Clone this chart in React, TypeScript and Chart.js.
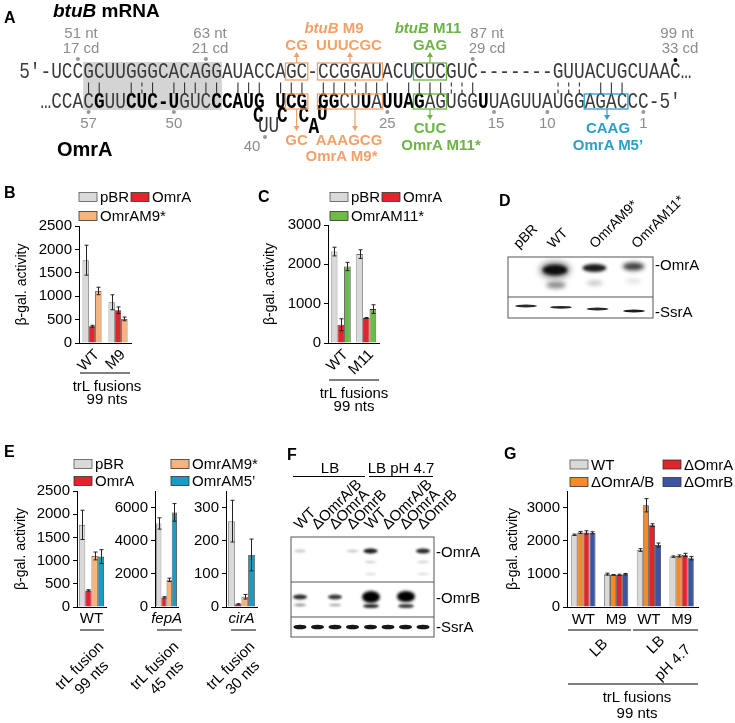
import React, { useEffect, useRef } from 'react';
import { Chart, registerables } from 'chart.js';

Chart.register(...registerables);

const FONT = "'Liberation Sans', Arial, Helvetica, sans-serif";
const MONO = "'Liberation Mono', 'Courier New', monospace";

// ---------- colours ----------
const GREY = '#d9d9d9';
const RED = '#e2252b';
const LORANGE = '#f8b27b';
const GREEN = '#6dbb45';
const TEAL = '#1b9bc4';
const ORANGE = '#f18b2b';
const NAVY = '#3b54a4';
const A_ORANGE = '#f3a168';
const A_GREEN = '#6cb544';
const A_BLUE = '#2b9fc9';
const NUMGREY = '#8c8c8c';

// ---------- Panel B data ----------
const B_LABELS = ['WT', 'M9'];
const B_TICKS = [0, 500, 1000, 1500, 2000, 2500];
const B_PBR = [1770, 870];
const B_PBR_ERR = [320, 160];
const B_OMRA = [358, 700];
const B_OMRA_ERR = [20, 70];
const B_OMRAM9 = [1112, 515];
const B_OMRAM9_ERR = [80, 40];

// ---------- Panel C data ----------
const C_LABELS = ['WT', 'M11'];
const C_TICKS = [0, 500, 1000, 1500, 2000, 2500, 3000];
const C_PBR = [2325, 2260];
const C_PBR_ERR = [110, 110];
const C_OMRA = [465, 635];
const C_OMRA_ERR = [150, 12];
const C_OMRAM11 = [1945, 862];
const C_OMRAM11_ERR = [105, 110];

// ---------- Panel E data (pBR, OmrA, OmrAM9*, OmrAM5') ----------
const E_WT_TICKS = [0, 500, 1000, 1500, 2000, 2500];
const E_WT = [1770, 357, 1100, 1086];
const E_WT_ERR = [315, 15, 85, 150];
const E_FEPA_TICKS = [0, 2000, 4000, 6000];
const E_FEPA = [5040, 580, 1640, 5710];
const E_FEPA_ERR = [340, 40, 100, 530];
const E_CIRA_TICKS = [0, 100, 200, 300];
const E_CIRA = [259, 8, 31, 157];
const E_CIRA_ERR = [63, 2, 7, 48];

// ---------- Panel G data ----------
const G_LABELS = ['WT', 'M9', 'WT', 'M9'];
const G_TICKS = [0, 1000, 2000, 3000];
const G_WT = [2180, 990, 1720, 1520];
const G_WT_ERR = [20, 30, 40, 20];
const G_OMRAB = [2250, 970, 3070, 1540];
const G_OMRAB_ERR = [30, 10, 200, 30];
const G_OMRA = [2250, 970, 2470, 1570];
const G_OMRA_ERR = [50, 20, 40, 50];
const G_OMRB = [2240, 990, 1870, 1470];
const G_OMRB_ERR = [30, 20, 60, 50];

// ---------- blot lane labels ----------
const D_LANES = ['pBR', 'WT', 'OmrAM9*', 'OmrAM11*'];
const D_LABEL_X = [519, 553, 595, 637];
const F_LANES = ['WT', 'ΔOmrA/B', 'ΔOmrA', 'ΔOmrB', 'WT', 'ΔOmrA/B', 'ΔOmrA', 'ΔOmrB'];
const F_X = [300, 317.5, 335, 352.5, 370.5, 388, 405.5, 423];

// ---------- sequences (panel A) ----------
const TOP_SEQ = '5′-UCCGCUUGGGCACAGGAUACCAGC-CCGGAUACUCUCGUC-------GUUACUGCUAAC…';
const BOT_SEGS: [string, boolean][] = [
  ['…CCAC', false], ['G', true], ['UU', false], ['CUC-U', true], ['GUC', false], ['C', true],
  ['CAUG', true], [' ', false], ['UCG', true], [' ', false], ['GG', true], ['CU', false],
  ['U', true], ['A', false], ['UUAG', true], ['AGUGG', false], ['U', true], ['UAGUUAUGGAGACCC-5′', false],
];
const PAIRS = [6, 7, 10, 11, 12, 14, 15, 16, 17, 18, 20, 21, 22, 24, 25, 26, 28, 29, 30, 31, 32, 33, 34, 36, 37, 38, 39, 40, 41, 42, 50, 51, 52, 54, 55, 56];
const WOBBLE = [11, 31, 40, 41, 50, 51, 52];

const CW = 10.67;
const CX0 = 19.2;
const cx = (k: number) => CX0 + CW * k;
const cc = (k: number) => CX0 + CW * (k + 0.5);

// ---------- error bar plugin ----------
const errorBars = {
  id: 'errorBars',
  afterDatasetsDraw(chart: any) {
    const ctx = chart.ctx;
    const ys = chart.scales.y;
    chart.data.datasets.forEach((ds: any, di: number) => {
      const meta = chart.getDatasetMeta(di);
      meta.data.forEach((bar: any, i: number) => {
        const v = ds.data[i];
        const e = ds.errors ? ds.errors[i] : 0;
        if (!e) return;
        const x = Math.round(bar.x) + 0.5;
        const t = ys.getPixelForValue(v + e);
        const b = ys.getPixelForValue(Math.max(0, v - e));
        ctx.save();
        ctx.strokeStyle = '#222';
        ctx.lineWidth = 1;
        ctx.beginPath();
        ctx.moveTo(x, t); ctx.lineTo(x, b);
        ctx.moveTo(x - 2, t); ctx.lineTo(x + 2, t);
        ctx.moveTo(x - 2, b); ctx.lineTo(x + 2, b);
        ctx.stroke();
        ctx.restore();
      });
    });
  },
};

type SeriesDef = { label: string; data: number[]; err: number[]; color: string };

function cfg(o: {
  labels: string[]; series: SeriesDef[]; max: number; ticks: number[]; yW: number; xH: number;
  padTop: number; titlePad: number | null; rot: number; xPad: number; cat: number; italic?: boolean; lOff?: number;
}) {
  return {
    type: 'bar',
    data: {
      labels: o.labels,
      datasets: o.series.map((s) => ({
        label: s.label, data: s.data, errors: s.err, backgroundColor: s.color,
        borderColor: s.color === GREY ? '#6a6a6a' : '#3a3a3a', borderWidth: 0.8,
        categoryPercentage: o.cat, barPercentage: 1,
      })),
    },
    options: {
      animation: false, responsive: false, events: [],
      layout: { padding: { top: o.padTop, right: 4, bottom: 0, left: 0 } },
      plugins: { legend: { display: false }, tooltip: { enabled: false } },
      scales: {
        x: {
          grid: { display: false, drawTicks: false },
          border: { display: true, color: '#000', width: 1 },
          ticks: {
            color: '#000', font: { family: FONT, size: 15, style: o.italic ? 'italic' : 'normal' },
            minRotation: o.rot, maxRotation: o.rot, autoSkip: false, padding: o.xPad, labelOffset: o.lOff ?? 0,
          },
          afterFit: (s: any) => { s.height = o.xH; },
        },
        y: {
          min: 0, max: o.max,
          grid: { display: true, drawOnChartArea: false, drawTicks: true, tickLength: 4, color: '#000' },
          border: { display: true, color: '#000', width: 1 },
          ticks: { color: '#000', font: { family: FONT, size: 15 }, padding: 3, callback: (v: any) => String(v) },
          afterBuildTicks: (s: any) => { s.ticks = o.ticks.map((v) => ({ value: v })); },
          title: o.titlePad === null
            ? { display: false }
            : { display: true, text: 'β-gal. activity', color: '#000', font: { family: FONT, size: 14 }, padding: { top: o.titlePad, bottom: 0 } },
          afterFit: (s: any) => { s.width = o.yW; },
        },
      },
    },
    plugins: [errorBars],
  };
}

const eSeries = (d: number[], e: number[]): SeriesDef[] => [
  { label: 'pBR', data: [d[0]], err: [e[0]], color: GREY },
  { label: 'OmrA', data: [d[1]], err: [e[1]], color: RED },
  { label: 'OmrAM9*', data: [d[2]], err: [e[2]], color: LORANGE },
  { label: 'OmrAM5’', data: [d[3]], err: [e[3]], color: TEAL },
];

const PANELS = [
  {
    left: 0, top: 212, width: 135, height: 166,
    make: () => cfg({
      labels: B_LABELS, max: 2500, ticks: B_TICKS, yW: 79, xH: 35, padTop: 14, titlePad: 13.6, rot: 45, xPad: 3, cat: 0.73, lOff: 5,
      series: [
        { label: 'pBR', data: B_PBR, err: B_PBR_ERR, color: GREY },
        { label: 'OmrA', data: B_OMRA, err: B_OMRA_ERR, color: RED },
        { label: 'OmrAM9*', data: B_OMRAM9, err: B_OMRAM9_ERR, color: LORANGE },
      ],
    }),
  },
  {
    left: 250, top: 211, width: 133, height: 167,
    make: () => cfg({
      labels: C_LABELS, max: 3000, ticks: C_TICKS, yW: 78, xH: 35, padTop: 14, titlePad: 11.6, rot: 45, xPad: 3, cat: 0.78, lOff: 5,
      series: [
        { label: 'pBR', data: C_PBR, err: C_PBR_ERR, color: GREY },
        { label: 'OmrA', data: C_OMRA, err: C_OMRA_ERR, color: RED },
        { label: 'OmrAM11*', data: C_OMRAM11, err: C_OMRAM11_ERR, color: GREEN },
      ],
    }),
  },
  {
    left: 0, top: 477, width: 110, height: 154,
    make: () => cfg({ labels: ['WT'], max: 2500, ticks: E_WT_TICKS, yW: 77, xH: 24, padTop: 14, titlePad: 13, rot: 0, xPad: 3, cat: 0.86, series: eSeries(E_WT, E_WT_ERR) }),
  },
  {
    left: 110, top: 477, width: 77, height: 154,
    make: () => cfg({ labels: ['fepA'], max: 7000, ticks: E_FEPA_TICKS, yW: 45, xH: 24, padTop: 14, titlePad: null, rot: 0, xPad: 3, cat: 0.9, italic: true, series: eSeries(E_FEPA, E_FEPA_ERR) }),
  },
  {
    left: 186, top: 477, width: 75, height: 154,
    make: () => cfg({ labels: ['cirA'], max: 350, ticks: E_CIRA_TICKS, yW: 40, xH: 24, padTop: 14, titlePad: null, rot: 0, xPad: 3, cat: 0.86, italic: true, series: eSeries(E_CIRA, E_CIRA_ERR) }),
  },
  {
    left: 500, top: 477, width: 202, height: 154,
    make: () => cfg({
      labels: G_LABELS, max: 3500, ticks: G_TICKS, yW: 67, xH: 24, padTop: 14, titlePad: 4.6, rot: 0, xPad: 4, cat: 0.74,
      series: [
        { label: 'WT', data: G_WT, err: G_WT_ERR, color: GREY },
        { label: 'ΔOmrA/B', data: G_OMRAB, err: G_OMRAB_ERR, color: ORANGE },
        { label: 'ΔOmrA', data: G_OMRA, err: G_OMRA_ERR, color: RED },
        { label: 'ΔOmrB', data: G_OMRB, err: G_OMRB_ERR, color: NAVY },
      ],
    }),
  },
];

// ---------- SVG helpers ----------
function T(p: { x: number; y: number; s?: number; w?: any; c?: string; a?: string; rot?: number; it?: boolean; mid?: boolean; children: any }) {
  return (
    <text
      x={p.x} y={p.y} fontSize={p.s ?? 15} fontWeight={p.w ?? 'normal'} fill={p.c ?? '#000'}
      textAnchor={(p.a as any) ?? 'start'} fontStyle={p.it ? 'italic' : 'normal'}
      dominantBaseline={p.mid ? 'central' : 'auto'}
      transform={p.rot ? `rotate(${p.rot} ${p.x} ${p.y})` : undefined}
    >
      {p.children}
    </text>
  );
}

function Arrow({ x, y1, y2, c }: { x: number; y1: number; y2: number; c: string }) {
  const dir = y2 > y1 ? 1 : -1;
  const hb = y2 - dir * 5;
  return (
    <g>
      <line x1={x} y1={y1} x2={x} y2={hb} stroke={c} strokeWidth={1.2} />
      <path d={`M${x - 3} ${hb} L${x + 3} ${hb} L${x} ${y2} Z`} fill={c} />
    </g>
  );
}

function Leg({ x, y, c, label }: { x: number; y: number; c: string; label: string }) {
  return (
    <g>
      <rect x={x} y={y - 4.5} width={18} height={9} fill={c} stroke={c === GREY ? '#555' : '#333'} strokeWidth={0.8} />
      <T x={x + 21} y={y + 5.3}>{label}</T>
    </g>
  );
}

function Mono({ x, y, bold, c, children }: { x: any; y: number; bold?: boolean; c?: string; children: any }) {
  return (
    <g transform={`translate(0 ${y}) scale(1 1.22)`}>
      <text x={x} y={0} fontFamily={MONO} fontSize={17.8} fontWeight={bold ? 'bold' : 'normal'} fill={c ?? (bold ? '#000' : '#3a3a3a')}>
        {children}
      </text>
    </g>
  );
}

function Band({ x, y, rx, ry, c, b }: { x: number; y: number; rx: number; ry: number; c: string; b: string }) {
  return <ellipse cx={x} cy={y} rx={rx} ry={ry} fill={c} filter={`url(#${b})`} />;
}

function PanelA() {
  const topXs = Array.from(TOP_SEQ).map((_, i) => cx(i).toFixed(2)).join(' ');
  const norm = { s: '', xs: [] as string[] };
  const bold = { s: '', xs: [] as string[] };
  let col = 2;
  for (const [seg, b] of BOT_SEGS) {
    for (const ch of Array.from(seg)) {
      if (ch !== ' ') {
        const t = b ? bold : norm;
        t.s += ch;
        t.xs.push(cx(col).toFixed(2));
      }
      col++;
    }
  }
  const box = (k1: number, k2: number, y: number, h: number, c: string) => (
    <rect x={cx(k1) - 0.5} y={y} width={cx(k2 + 1) - cx(k1) + 1} height={h} fill="none" stroke={c} strokeWidth={1.3} />
  );
  return (
    <g>
      <T x={4} y={23} s={16} w="bold">A</T>
      <text x={53} y={17} fontSize={19} fontWeight="bold"><tspan fontStyle="italic">btuB</tspan> mRNA</text>
      <T x={57} y={156} s={20} w="bold">OmrA</T>

      <rect x={cx(6)} y={62} width={cx(19) - cx(6)} height={48} fill="#d4d4d4" />

      {/* grey position labels */}
      <T x={81} y={38} c={NUMGREY} a="middle">51 nt</T>
      <T x={81} y={53} c={NUMGREY} a="middle">17 cd</T>
      <T x={210} y={38} c={NUMGREY} a="middle">63 nt</T>
      <T x={210} y={53} c={NUMGREY} a="middle">21 cd</T>
      <T x={487} y={38} c={NUMGREY} a="middle">87 nt</T>
      <T x={487} y={53} c={NUMGREY} a="middle">29 cd</T>
      <T x={677} y={38} c={NUMGREY} a="middle">99 nt</T>
      <T x={680} y={53} c={NUMGREY} a="middle">33 cd</T>
      <circle cx={cc(5)} cy={59} r={2} fill="#999" />
      <circle cx={cc(17)} cy={59} r={2} fill="#999" />
      <circle cx={cc(42)} cy={59} r={2} fill="#999" />
      <circle cx={cc(61)} cy={60} r={2} fill="#000" />

      <T x={cc(6)} y={128} c={NUMGREY} a="middle">57</T>
      <T x={cc(14)} y={128} c={NUMGREY} a="middle">50</T>
      <T x={252} y={151} c={NUMGREY} a="middle">40</T>
      <T x={cc(34)} y={128} c={NUMGREY} a="middle">25</T>
      <T x={cc(44) + 2} y={128} c={NUMGREY} a="middle">15</T>
      <T x={cc(49)} y={128} c={NUMGREY} a="middle">10</T>
      <T x={cc(58)} y={128} c={NUMGREY} a="middle">1</T>
      {[6, 14, 34, 44, 49, 58].map((k) => <circle key={k} cx={cc(k)} cy={112} r={2} fill="#999" />)}
      <circle cx={265} cy={137} r={2} fill="#999" />

      {/* sequences */}
      <Mono x={topXs} y={78}>{TOP_SEQ}</Mono>
      <Mono x={norm.xs.join(' ')} y={107.5}>{norm.s}</Mono>
      <Mono x={bold.xs.join(' ')} y={107.5} bold>{bold.s}</Mono>

      {/* bulge */}
      <Mono x={253} y={121.5} bold>C</Mono>
      <Mono x="258 268.6" y={131.5}>UU</Mono>
      <Mono x={277} y={121.5} bold>C</Mono>
      <Mono x={298.5} y={121.5} bold>C</Mono>
      <Mono x={308.5} y={133} bold>A</Mono>
      <Mono x={317} y={120} bold>U</Mono>

      {/* base pairs */}
      {PAIRS.map((k) => {
        const x = cc(k);
        return WOBBLE.includes(k) ? (
          <g key={k}>
            <line x1={x} y1={82.5} x2={x} y2={86.5} stroke="#333" strokeWidth={1.1} />
            <line x1={x} y1={89.5} x2={x} y2={93.5} stroke="#333" strokeWidth={1.1} />
          </g>
        ) : (
          <line key={k} x1={x} y1={82.5} x2={x} y2={93.5} stroke="#333" strokeWidth={1.1} />
        );
      })}

      {/* mutation boxes */}
      {box(25, 26, 63, 17, A_ORANGE)}
      {box(28, 33, 63, 17, A_ORANGE)}
      {box(25, 26, 94, 15, A_ORANGE)}
      {box(28, 33, 94, 15, A_ORANGE)}
      {box(37, 39, 63, 17, A_GREEN)}
      {box(37, 39, 94, 15, A_GREEN)}
      {box(53, 56, 94, 15, A_BLUE)}

      <Arrow x={cx(26)} y1={63} y2={52} c={A_ORANGE} />
      <Arrow x={cx(31)} y1={63} y2={52} c={A_ORANGE} />
      <Arrow x={cx(26)} y1={109} y2={131} c={A_ORANGE} />
      <Arrow x={355} y1={109} y2={131} c={A_ORANGE} />
      <Arrow x={cc(38)} y1={63} y2={52} c={A_GREEN} />
      <Arrow x={cc(38)} y1={109} y2={120} c={A_GREEN} />
      <Arrow x={607} y1={109} y2={120} c={A_BLUE} />

      <text x={334} y={33} fontSize={15} fontWeight="bold" fill={A_ORANGE} textAnchor="middle"><tspan fontStyle="italic">btuB</tspan> M9</text>
      <T x={cx(26)} y={50} w="bold" c={A_ORANGE} a="middle">CG</T>
      <T x={349} y={50} w="bold" c={A_ORANGE} a="middle">UUUCGC</T>
      <T x={cx(26)} y={145} w="bold" c={A_ORANGE} a="middle">GC</T>
      <T x={349} y={145} w="bold" c={A_ORANGE} a="middle">AAAGCG</T>
      <T x={341.5} y={161} w="bold" c={A_ORANGE} a="middle">OmrA M9*</T>

      <text x={428} y={33} fontSize={15} fontWeight="bold" fill={A_GREEN} textAnchor="middle"><tspan fontStyle="italic">btuB</tspan> M11</text>
      <T x={cc(38)} y={50} w="bold" c={A_GREEN} a="middle">GAG</T>
      <T x={cc(38)} y={133} w="bold" c={A_GREEN} a="middle">CUC</T>
      <T x={441} y={150} w="bold" c={A_GREEN} a="middle">OmrA M11*</T>

      <T x={608} y={133} w="bold" c={A_BLUE} a="middle">CAAG</T>
      <T x={608} y={150} w="bold" c={A_BLUE} a="middle">OmrA M5’</T>
    </g>
  );
}

function PanelD() {
  return (
    <g>
      <T x={499} y={206} s={16} w="bold">D</T>
      {D_LANES.map((l, i) => (
        <T key={i} x={D_LABEL_X[i]} y={249} s={14} rot={-45}>{l}</T>
      ))}
      <clipPath id="dclip1"><rect x={508} y={257} width={145} height={40} /></clipPath>
      <clipPath id="dclip2"><rect x={508} y={297} width={145} height={21} /></clipPath>
      <g clipPath="url(#dclip1)">
        <Band x={555} y={270} rx={15} ry={8} c="#777" b="bl3" />
        <Band x={555} y={270} rx={12} ry={5} c="#0a0a0a" b="bl15" />
        <Band x={556} y={285} rx={10} ry={3.5} c="#8a8a8a" b="bl2" />
        <Band x={594.5} y={268} rx={12} ry={4} c="#1e1e1e" b="bl15" />
        <Band x={594.5} y={283} rx={8} ry={2.5} c="#c4c4c4" b="bl2" />
        <Band x={633.5} y={266.5} rx={11} ry={4} c="#3e3e3e" b="bl2" />
        <Band x={633.5} y={281} rx={8} ry={2.5} c="#e2e2e2" b="bl2" />
      </g>
      <g clipPath="url(#dclip2)">
        <Band x={526} y={306} rx={11} ry={1.4} c="#2a2a2a" b="bl07" />
        <Band x={561} y={307.3} rx={11} ry={1.4} c="#2a2a2a" b="bl07" />
        <Band x={597.5} y={309} rx={11} ry={1.4} c="#2a2a2a" b="bl07" />
        <Band x={634} y={311} rx={11} ry={1.5} c="#1e1e1e" b="bl07" />
      </g>
      <rect x={508} y={257} width={145} height={61} fill="none" stroke="#555" strokeWidth={1} />
      <line x1={508} y1={297} x2={653} y2={297} stroke="#555" strokeWidth={1} />
      <T x={655} y={269.5}>-OmrA</T>
      <T x={655} y={317}>-SsrA</T>
    </g>
  );
}

function PanelF() {
  return (
    <g>
      <T x={287} y={460} s={16} w="bold">F</T>
      <T x={330} y={473} a="middle">LB</T>
      <T x={401} y={473} a="middle">LB pH 4.7</T>
      <line x1={293} y1={476.5} x2={365} y2={476.5} stroke="#000" strokeWidth={1} />
      <line x1={369} y1={476.5} x2={433} y2={476.5} stroke="#000" strokeWidth={1} />
      {F_LANES.map((l, i) => (
        <T key={i} x={F_X[i]} y={530} s={15} rot={-45}>{l}</T>
      ))}
      <clipPath id="fclip1"><rect x={291} y={537} width={143} height={45} /></clipPath>
      <clipPath id="fclip2"><rect x={291} y={582} width={143} height={35} /></clipPath>
      <clipPath id="fclip3"><rect x={291} y={617} width={143} height={20} /></clipPath>
      <g clipPath="url(#fclip1)">
        <Band x={300} y={551} rx={6} ry={1.5} c="#c8c8c8" b="bl1" />
        <Band x={352.5} y={551} rx={6} ry={1.5} c="#cdcdcd" b="bl1" />
        <Band x={370.5} y={551} rx={7} ry={2.5} c="#1e1e1e" b="bl1" />
        <Band x={370.5} y={562} rx={6} ry={1.2} c="#cfcfcf" b="bl1" />
        <Band x={370.5} y={574} rx={6} ry={1.2} c="#dcdcdc" b="bl1" />
        <Band x={423} y={551} rx={7} ry={2.5} c="#2a2a2a" b="bl1" />
        <Band x={423} y={562} rx={6} ry={1.2} c="#cfcfcf" b="bl1" />
        <Band x={423} y={574} rx={6} ry={1.2} c="#dcdcdc" b="bl1" />
      </g>
      <g clipPath="url(#fclip2)">
        <Band x={300} y={597} rx={7} ry={2.6} c="#2e2e2e" b="bl1" />
        <Band x={300} y={605} rx={6} ry={1.5} c="#9a9a9a" b="bl1" />
        <Band x={335} y={597} rx={7} ry={2.6} c="#3a3a3a" b="bl1" />
        <Band x={335} y={605} rx={6} ry={1.3} c="#aaaaaa" b="bl1" />
        <Band x={371} y={597} rx={9} ry={6} c="#000" b="bl15" />
        <Band x={371} y={606} rx={8} ry={2} c="#2a2a2a" b="bl1" />
        <Band x={406} y={596.5} rx={9} ry={5.5} c="#000" b="bl15" />
        <Band x={406} y={606} rx={8} ry={2} c="#3a3a3a" b="bl1" />
      </g>
      <g clipPath="url(#fclip3)">
        {F_X.map((x, i) => <Band key={i} x={x} y={627} rx={6.5} ry={2.3} c="#161616" b="bl07" />)}
      </g>
      <rect x={291} y={537} width={143} height={100} fill="none" stroke="#555" strokeWidth={1} />
      <line x1={291} y1={582} x2={434} y2={582} stroke="#555" strokeWidth={1} />
      <line x1={291} y1={617} x2={434} y2={617} stroke="#555" strokeWidth={1} />
      <T x={436} y={556.5}>-OmrA</T>
      <T x={436} y={602.5}>-OmrB</T>
      <T x={436} y={632}>-SsrA</T>
    </g>
  );
}

function Overlay() {
  return (
    <svg width={735} height={723} style={{ position: 'absolute', left: 0, top: 0, pointerEvents: 'none' }} fontFamily={FONT}>
      <defs>
        <filter id="bl07" x="-50%" y="-200%" width="200%" height="500%"><feGaussianBlur stdDeviation="0.7" /></filter>
        <filter id="bl1" x="-50%" y="-200%" width="200%" height="500%"><feGaussianBlur stdDeviation="1" /></filter>
        <filter id="bl15" x="-50%" y="-200%" width="200%" height="500%"><feGaussianBlur stdDeviation="1.5" /></filter>
        <filter id="bl2" x="-50%" y="-200%" width="200%" height="500%"><feGaussianBlur stdDeviation="2" /></filter>
        <filter id="bl3" x="-50%" y="-200%" width="200%" height="500%"><feGaussianBlur stdDeviation="3" /></filter>
      </defs>
      <PanelA />

      {/* Panel B */}
      <T x={4} y={198} s={16} w="bold">B</T>
      <Leg x={79} y={197} c={GREY} label="pBR" />
      <Leg x={131} y={197} c={RED} label="OmrA" />
      <Leg x={79} y={216} c={LORANGE} label="OmrAM9*" />
      <line x1={80} y1={373} x2={130} y2={373} stroke="#000" strokeWidth={1} />
      <T x={107} y={391} a="middle">trL fusions</T>
      <T x={107} y={404} a="middle">99 nts</T>

      {/* Panel C */}
      <T x={258} y={202} s={16} w="bold">C</T>
      <Leg x={330} y={197} c={GREY} label="pBR" />
      <Leg x={382} y={197} c={RED} label="OmrA" />
      <Leg x={330} y={216} c={GREEN} label="OmrAM11*" />
      <line x1={329} y1={380} x2={379} y2={380} stroke="#000" strokeWidth={1} />
      <T x={354} y={398} a="middle">trL fusions</T>
      <T x={354} y={411} a="middle">99 nts</T>

      <PanelD />

      {/* Panel E */}
      <T x={4} y={457} s={16} w="bold">E</T>
      <Leg x={74} y={464} c={GREY} label="pBR" />
      <Leg x={74} y={481} c={RED} label="OmrA" />
      <Leg x={171} y={464} c={LORANGE} label="OmrAM9*" />
      <Leg x={171} y={481} c={TEAL} label="OmrAM5’" />
      <line x1={80} y1={630} x2={104} y2={630} stroke="#000" strokeWidth={1} />
      <line x1={157} y1={630} x2={182} y2={630} stroke="#000" strokeWidth={1} />
      <line x1={231} y1={630} x2={256} y2={630} stroke="#000" strokeWidth={1} />
      <T x={79} y={665} a="middle" mid rot={-45}>trL fusion</T>
      <T x={91} y={677} a="middle" mid rot={-45}>99 nts</T>
      <T x={154} y={665} a="middle" mid rot={-45}>trL fusion</T>
      <T x={166} y={677} a="middle" mid rot={-45}>45 nts</T>
      <T x={230} y={665} a="middle" mid rot={-45}>trL fusion</T>
      <T x={242} y={677} a="middle" mid rot={-45}>30 nts</T>

      <PanelF />

      {/* Panel G */}
      <T x={504} y={459} s={16} w="bold">G</T>
      <Leg x={570} y={464.5} c={GREY} label="WT" />
      <Leg x={663} y={464.5} c={RED} label="ΔOmrA" />
      <Leg x={570} y={482} c={ORANGE} label="ΔOmrA/B" />
      <Leg x={663} y={482} c={NAVY} label="ΔOmrB" />
      <line x1={568} y1={630} x2={631} y2={630} stroke="#000" strokeWidth={1} />
      <line x1={633} y1={630} x2={698} y2={630} stroke="#000" strokeWidth={1} />
      <T x={598} y={647} a="middle" mid rot={-45}>LB</T>
      <T x={655} y={644} a="middle" mid rot={-45}>LB</T>
      <T x={672} y={662} a="middle" mid rot={-45}>pH 4.7</T>
      <line x1={568} y1={684} x2={698} y2={684} stroke="#000" strokeWidth={1} />
      <T x={637} y={702} a="middle">trL fusions</T>
      <T x={637} y={718} a="middle">99 nts</T>
    </svg>
  );
}

export default function App() {
  const refs = useRef<(HTMLCanvasElement | null)[]>([]);
  useEffect(() => {
    const charts = PANELS.map((p, i) => new Chart(refs.current[i] as HTMLCanvasElement, p.make() as any));
    return () => charts.forEach((c) => c.destroy());
  }, []);
  return (
    <div style={{ position: 'absolute', left: 0, top: 0, width: 735, height: 723, background: '#fff', overflow: 'hidden', fontFamily: FONT }}>
      {PANELS.map((p, i) => (
        <canvas
          key={i}
          ref={(el) => { refs.current[i] = el; }}
          width={p.width}
          height={p.height}
          style={{ position: 'absolute', left: p.left, top: p.top, width: p.width, height: p.height }}
        />
      ))}
      <Overlay />
    </div>
  );
}
